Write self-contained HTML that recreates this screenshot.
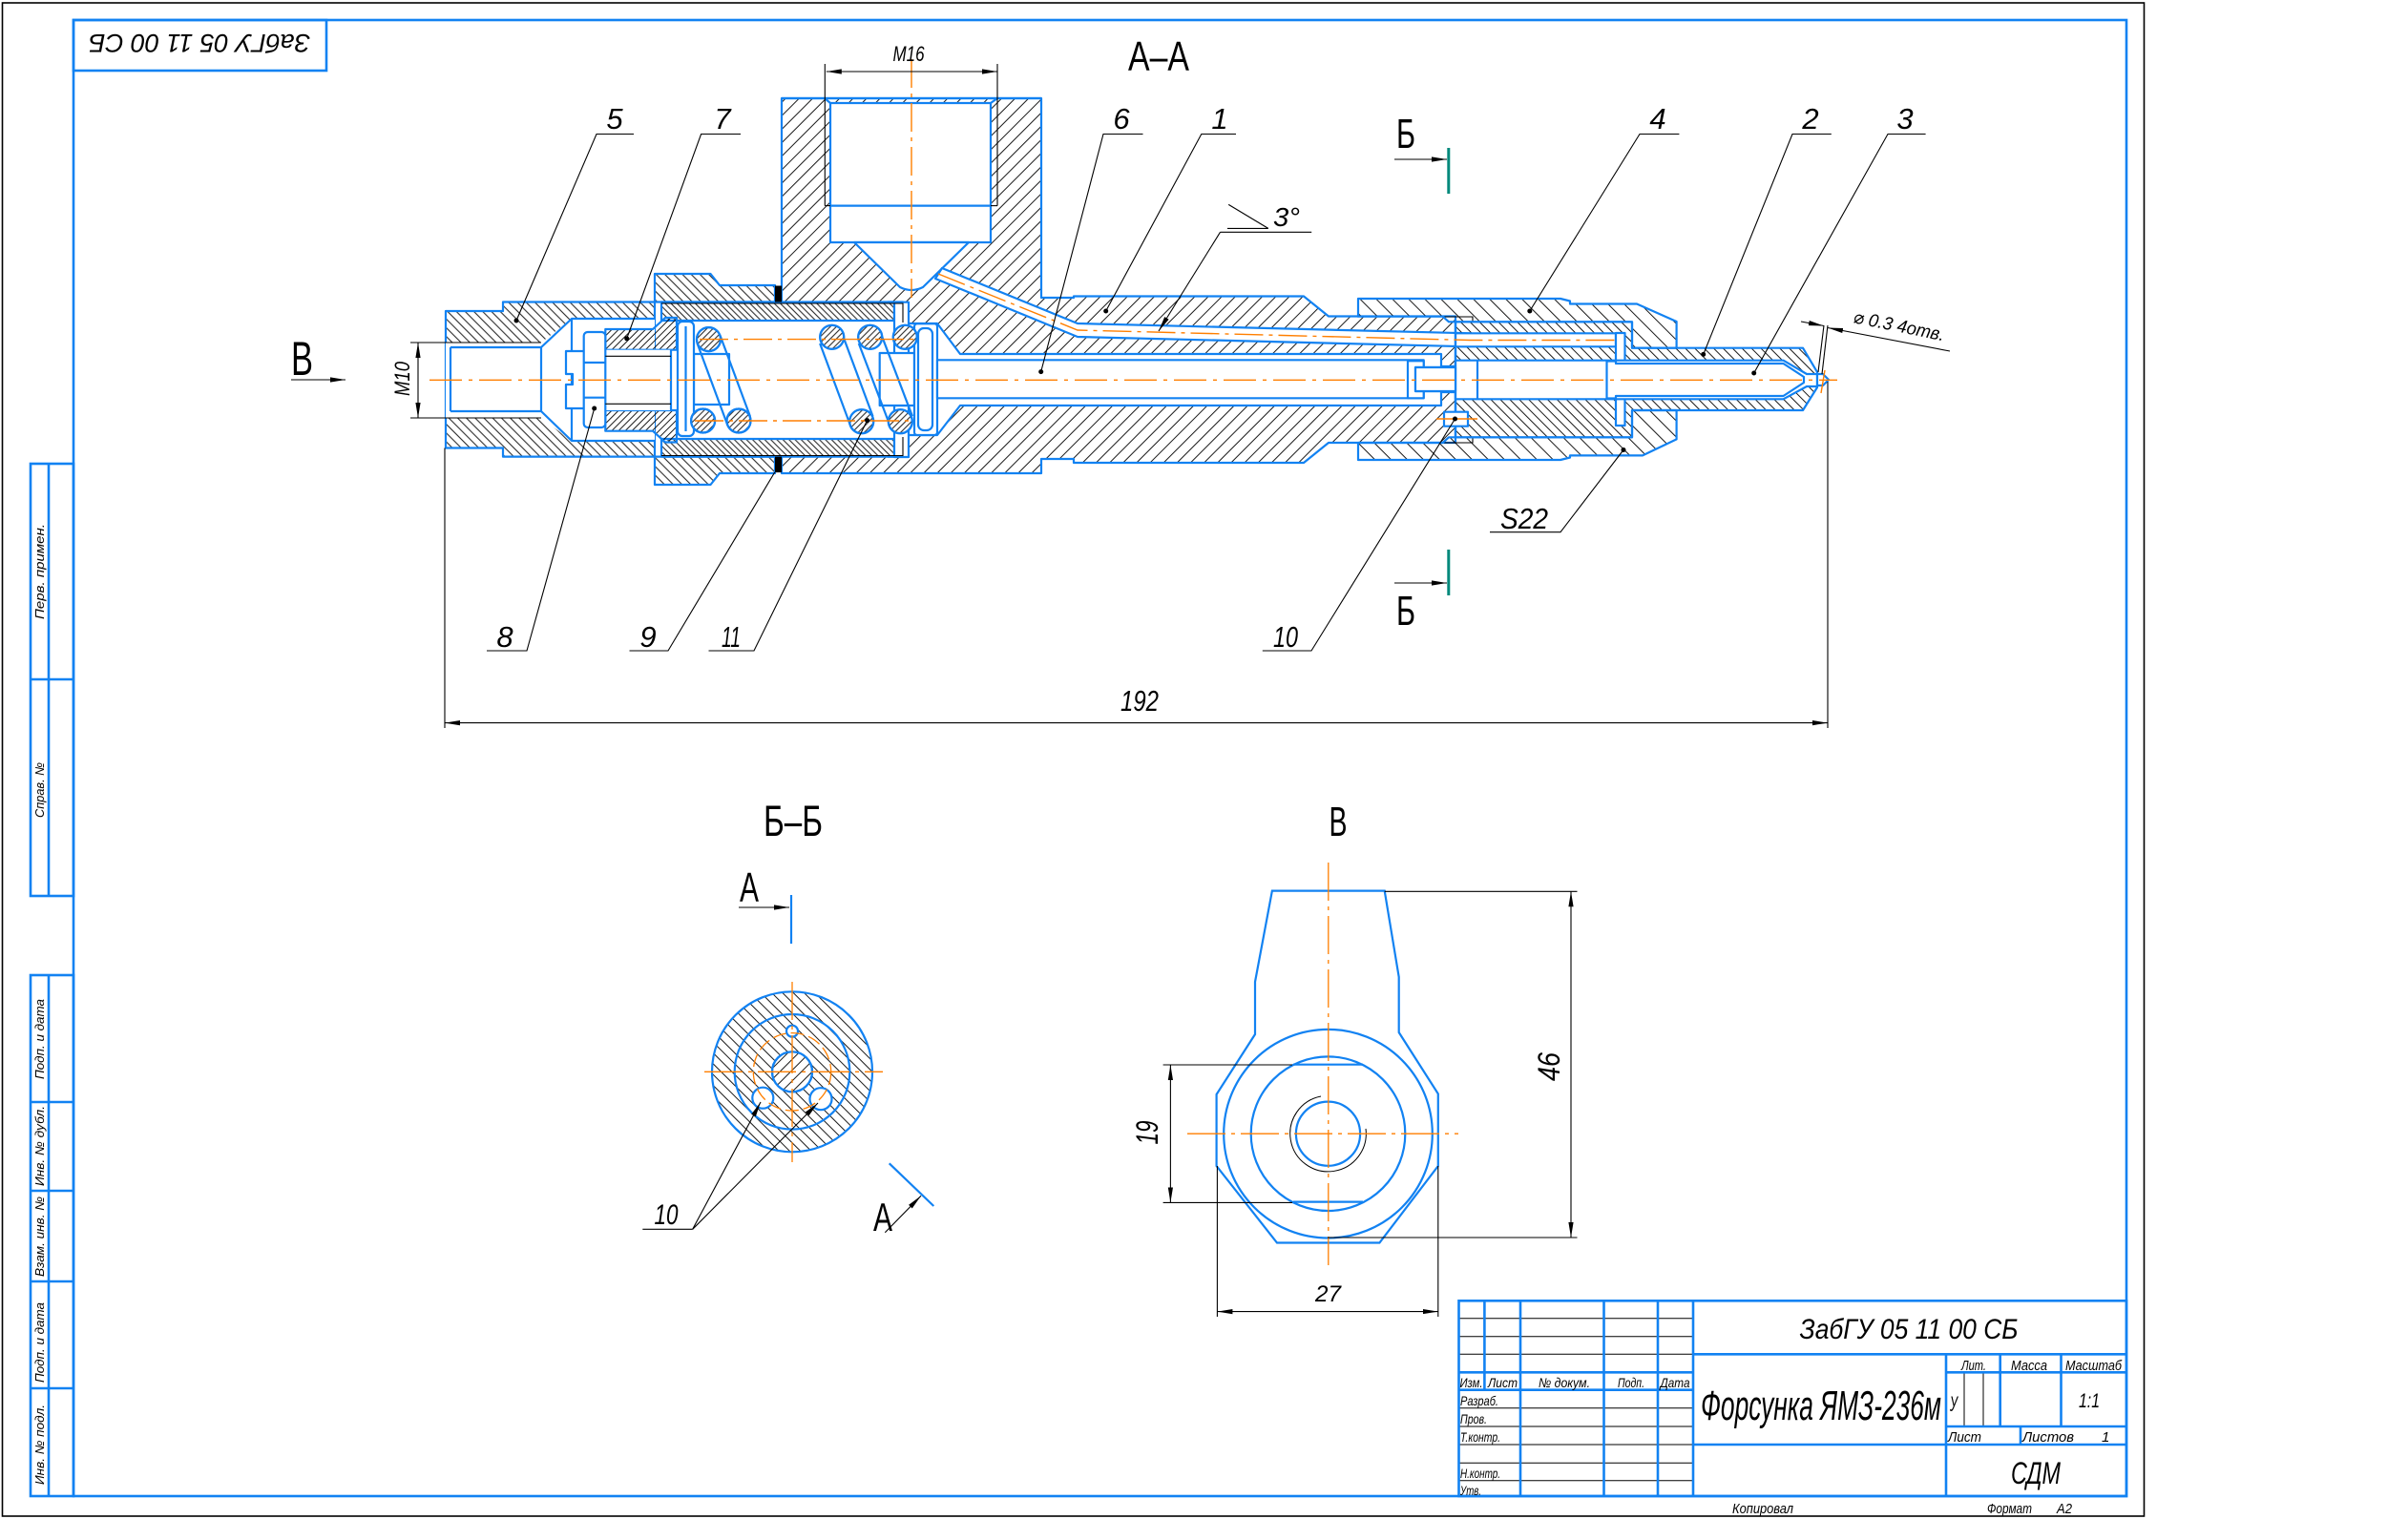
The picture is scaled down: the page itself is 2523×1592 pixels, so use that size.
<!DOCTYPE html>
<html><head><meta charset="utf-8">
<style>
html,body{margin:0;padding:0;background:#fff;}
svg{display:block;}
text{font-family:"Liberation Sans","DejaVu Sans",sans-serif;fill:#000;}
.it{font-style:italic;}
</style></head><body>
<svg xmlns="http://www.w3.org/2000/svg" width="2523" height="1592" viewBox="0 0 2523 1592">
<defs>
<pattern id="pA" width="6.5" height="10" patternUnits="userSpaceOnUse" patternTransform="rotate(-45)"><line x1="3.25" y1="-1" x2="3.25" y2="11" stroke="#000" stroke-width="0.9"/></pattern>
<pattern id="pB" width="4.5" height="10" patternUnits="userSpaceOnUse" patternTransform="rotate(-45)"><line x1="2.25" y1="-1" x2="2.25" y2="11" stroke="#000" stroke-width="0.9"/></pattern>
<pattern id="pC" width="5" height="10" patternUnits="userSpaceOnUse" patternTransform="rotate(45)"><line x1="2.5" y1="-1" x2="2.5" y2="11" stroke="#000" stroke-width="0.9"/></pattern>
<pattern id="pD" width="10" height="10" patternUnits="userSpaceOnUse" patternTransform="rotate(45)"><line x1="5" y1="-1" x2="5" y2="11" stroke="#000" stroke-width="0.9"/></pattern>
<pattern id="pE" width="12" height="10" patternUnits="userSpaceOnUse" patternTransform="rotate(-45)"><line x1="6" y1="-1" x2="6" y2="11" stroke="#000" stroke-width="0.9"/></pattern>
<pattern id="pF" width="7" height="10" patternUnits="userSpaceOnUse" patternTransform="rotate(-45)"><line x1="3.5" y1="-1" x2="3.5" y2="11" stroke="#000" stroke-width="0.9"/></pattern>
<pattern id="pG" width="4.5" height="10" patternUnits="userSpaceOnUse" patternTransform="rotate(45)"><line x1="2.25" y1="-1" x2="2.25" y2="11" stroke="#000" stroke-width="0.9"/></pattern>
<pattern id="pH" width="8" height="10" patternUnits="userSpaceOnUse" patternTransform="rotate(-45)"><line x1="4" y1="-1" x2="4" y2="11" stroke="#000" stroke-width="0.9"/></pattern>
<pattern id="pI" width="8" height="10" patternUnits="userSpaceOnUse" patternTransform="rotate(45)"><line x1="4" y1="-1" x2="4" y2="11" stroke="#000" stroke-width="0.9"/></pattern>
<marker id="ar" viewBox="0 0 16 6" refX="16" refY="3" markerWidth="16" markerHeight="6" markerUnits="userSpaceOnUse" orient="auto-start-reverse"><path d="M0,0.4 L16,3 L0,5.6 Z" fill="#000"/></marker>
</defs>

<rect x="0" y="0" width="2523" height="1592" fill="#fff"/>

<!-- frames -->
<rect x="2.5" y="3" width="2244" height="1586" fill="none" stroke="#000" stroke-width="1.6"/>
<rect x="77" y="21" width="2151" height="1547" fill="none" stroke="#1282f2" stroke-width="2.6"/>
<rect x="77" y="21" width="265" height="53" fill="none" stroke="#1282f2" stroke-width="2.6"/>
<text class="it" x="209" y="56" font-size="27" text-anchor="middle" textLength="232" lengthAdjust="spacingAndGlyphs" transform="rotate(180 209 46)">ЗабГУ 05 11 00 СБ</text>

<!-- left strip -->
<g fill="none" stroke="#1282f2" stroke-width="2.6">
<rect x="32" y="486" width="45" height="453"/>
<line x1="51" y1="486" x2="51" y2="939"/>
<line x1="32" y1="712" x2="77" y2="712"/>
<rect x="32" y="1022" width="45" height="546"/>
<line x1="51" y1="1022" x2="51" y2="1568"/>
<line x1="32" y1="1155" x2="77" y2="1155"/>
<line x1="32" y1="1248" x2="77" y2="1248"/>
<line x1="32" y1="1343" x2="77" y2="1343"/>
<line x1="32" y1="1455" x2="77" y2="1455"/>
</g>
<g font-size="13" class="it">
<text class="it" transform="translate(46 599) rotate(-90)" text-anchor="middle" textLength="100" lengthAdjust="spacingAndGlyphs">Перв. примен.</text>
<text class="it" transform="translate(46 828) rotate(-90)" text-anchor="middle" textLength="58" lengthAdjust="spacingAndGlyphs">Справ. №</text>
<text class="it" transform="translate(46 1089) rotate(-90)" text-anchor="middle" textLength="84" lengthAdjust="spacingAndGlyphs">Подп. и дата</text>
<text class="it" transform="translate(46 1201) rotate(-90)" text-anchor="middle" textLength="84" lengthAdjust="spacingAndGlyphs">Инв. № дубл.</text>
<text class="it" transform="translate(46 1296) rotate(-90)" text-anchor="middle" textLength="84" lengthAdjust="spacingAndGlyphs">Взам. инв. №</text>
<text class="it" transform="translate(46 1407) rotate(-90)" text-anchor="middle" textLength="84" lengthAdjust="spacingAndGlyphs">Подп. и дата</text>
<text class="it" transform="translate(46 1514) rotate(-90)" text-anchor="middle" textLength="84" lengthAdjust="spacingAndGlyphs">Инв. № подл.</text>
</g>

<!-- ================= MAIN SECTION A-A ================= -->
<g stroke="#1282f2" stroke-width="2.2" stroke-linejoin="round">
<!-- body 1 (open path so the cavity side isn't stroked) -->
<path d="M819,316.5 V103 H1091 V312 H1125 V310.5 H1366 L1392,331.5 H1525 V464 H1392 L1366,485 H1125 V481 H1091 V496 H819 V478.6" fill="url(#pD)"/>
<!-- body cavity -->
<path d="M819,316.5 H946 V339 H982 L1006,371 H1510 V384 H1525 V411 H1510 V425 H1006 L982,456 H946 V478.6 H819 Z" fill="#fff" stroke="none"/>
<path d="M930,316.5 H946 V339 H982 L1006,371 H1510 V384 H1525 M1525,411 H1510 V425 H1006 L982,456 H946 V478.6 H930" fill="none"/>
<!-- M16 port -->
<path d="M870,254 V108 H1038 V254 Z" fill="#fff"/>
<path d="M895,254 L943,301 Q955,307 967,301 L1015,254 Z" fill="#fff"/>
<line x1="864" y1="103" x2="870" y2="108"/>
<line x1="1045" y1="103" x2="1038" y2="108"/>
<line x1="870" y1="215.6" x2="1038" y2="215.6"/>
<line x1="819" y1="103" x2="1091" y2="103"/>
<!-- inclined channel -->
<path d="M987,281 L1129,339 L1540,349.3 V363.3 L1129,353 L980,292 Z" fill="#fff"/>
<!-- left union nut -->
<path d="M686,287 H744.5 L754,299 H812 V316.5 H686 Z" fill="url(#pA)"/>
<path d="M686,508 H744.5 L754,496 H812 V478.6 H686 Z" fill="url(#pA)"/>
<!-- fitting 5 -->
<path d="M467,326 H527 V316.5 H686 V478.6 H527 V469.5 H467 Z" fill="url(#pA)"/>
<path d="M467,359 H567 L599,334 H686 V462 H599 L567,438 H467 Z" fill="#fff" stroke="none"/>
<path d="M472,364 V431 M472,364 H567 L599,334 H686 M472,431 H567 L599,462 H686 M567,364 V431 M599,334 V462" fill="none"/>
<!-- sleeve tube -->
<rect x="693" y="316.5" width="244" height="19.5" fill="url(#pB)"/>
<rect x="693" y="460" width="244" height="18.6" fill="url(#pB)"/>
<rect x="937" y="316.7" width="15" height="54" fill="#fff"/>
<rect x="937" y="425" width="15" height="54" fill="#fff"/>
<!-- part 7 -->
<path d="M634.3,345 H684 L697,333 H709 V366.7 H634.3 Z" fill="url(#pC)"/>
<path d="M634.3,451.7 H684 L697,463.5 H709 V430 H634.3 Z" fill="url(#pC)"/>
<rect x="634.3" y="366.7" width="69" height="63.3" fill="#fff" stroke="none"/>
<line x1="703" y1="366.7" x2="703" y2="430"/>
<!-- screw 8 -->
<path d="M612,368 H593 V392 H600 V403 H593 V428 H612" fill="#fff"/>
<rect x="611.7" y="348" width="22.6" height="100" rx="4" fill="#fff"/>
<line x1="611.7" y1="380" x2="634.3" y2="380"/>
<line x1="611.7" y1="416.7" x2="634.3" y2="416.7"/>
<!-- left seat -->
<rect x="727" y="371" width="37" height="53" fill="#fff"/>
<rect x="710" y="337" width="17" height="120" rx="5" fill="#fff"/>
<line x1="718.5" y1="342" x2="718.5" y2="452"/>
<!-- right seat -->
<rect x="921.7" y="370" width="36.3" height="55" fill="#fff"/>
<rect x="958" y="339.3" width="24" height="116.7" rx="3" fill="#fff"/>
<rect x="962" y="344" width="15" height="107" rx="6" fill="none"/>
<!-- rod 6 -->
<rect x="982" y="377.3" width="509.7" height="40" fill="#fff"/>
<rect x="1475" y="378.3" width="16.7" height="39" fill="#fff"/>
<rect x="1483" y="385" width="42" height="25" fill="#fff"/>
</g>

<!-- thread & misc thin black lines -->
<g stroke="#000" stroke-width="1.1" fill="none">
<line x1="864.3" y1="67" x2="864.3" y2="215.6"/>
<line x1="1045" y1="67" x2="1045" y2="215.6"/>
<line x1="864.3" y1="215.6" x2="870" y2="215.6"/>
<line x1="1038" y1="215.6" x2="1045" y2="215.6"/>
<line x1="430" y1="359" x2="567" y2="359"/>
<line x1="430" y1="438" x2="567" y2="438"/>
<polyline points="693,318 946,318 946,338"/>
<polyline points="693,477.5 946,477.5 946,458"/>
<line x1="634.3" y1="373.3" x2="703" y2="373.3"/>
<line x1="634.3" y1="423.3" x2="703" y2="423.3"/>
<polyline points="1433.6,332 1543,332 1543,337"/>
<polyline points="1433.6,464 1543,464 1543,459"/>
</g>

<!-- gaskets 9 -->
<rect x="812" y="299.5" width="7" height="17" fill="#000"/>
<rect x="812" y="478.6" width="7" height="16.5" fill="#000"/>

<!-- spring 11 -->
<g stroke="#1282f2" stroke-width="2.2" fill="none">
<line x1="754.4" y1="351.2" x2="785.9" y2="436.2"/>
<line x1="730.6" y1="360" x2="762.1" y2="445"/>
<line x1="882.9" y1="351.2" x2="914.5" y2="436.2"/>
<line x1="859.1" y1="360" x2="890.7" y2="445"/>
<line x1="923.6" y1="351.2" x2="955.9" y2="436.2"/>
<line x1="899.8" y1="360" x2="932.1" y2="445"/>
</g>
<g stroke="#1282f2" stroke-width="2.2">
<circle cx="742.5" cy="355.6" r="12.5" fill="#fff"/><circle cx="742.5" cy="355.6" r="12.5" fill="url(#pG)"/>
<circle cx="871.7" cy="353.3" r="12.5" fill="#fff"/><circle cx="871.7" cy="353.3" r="12.5" fill="url(#pG)"/>
<circle cx="911.7" cy="353.3" r="12.5" fill="#fff"/><circle cx="911.7" cy="353.3" r="12.5" fill="url(#pG)"/>
<circle cx="948.3" cy="353.3" r="12.5" fill="#fff"/><circle cx="948.3" cy="353.3" r="12.5" fill="url(#pG)"/>
<circle cx="736.6" cy="441" r="12.5" fill="#fff"/><circle cx="736.6" cy="441" r="12.5" fill="url(#pG)"/>
<circle cx="774" cy="441" r="12.5" fill="#fff"/><circle cx="774" cy="441" r="12.5" fill="url(#pG)"/>
<circle cx="902.7" cy="441.7" r="12.5" fill="#fff"/><circle cx="902.7" cy="441.7" r="12.5" fill="url(#pG)"/>
<circle cx="943.3" cy="441.7" r="12.5" fill="#fff"/><circle cx="943.3" cy="441.7" r="12.5" fill="url(#pG)"/>
</g>

<!-- right side: nut 4, nozzle 2 -->
<g stroke="#1282f2" stroke-width="2.2" stroke-linejoin="round">
<path d="M1423,313 H1635 L1645,315.5 V318.5 H1715 L1756.6,337 V364.7 H1710 V337.3 H1518 L1511.7,331.7 H1423 Z" fill="url(#pE)"/>
<path d="M1423,482 H1635 L1645,479.5 V477.4 H1721 L1756.6,460.4 V430 H1710 V458.3 H1518 L1511.7,464 H1423 Z" fill="url(#pE)"/>
<path d="M1525,337.3 H1710 V364.7 H1889 L1904,390 V406 L1889,430 H1710 V458.3 H1525 Z" fill="url(#pF)"/>
<rect x="1525" y="349.3" width="168" height="14" fill="#fff"/>
<rect x="1693" y="349" width="9.5" height="97" fill="#fff"/>
<path d="M1525,377.7 H1868.5 L1893,392 H1904 V405 H1893 L1868.5,418.3 H1525 Z" fill="#fff"/>
<path d="M1683.5,378.5 H1693 V381 H1868.5 L1890,395 V401 L1868.5,415 H1693 V417.5 H1683.5 Z" fill="#fff"/>
<line x1="1548" y1="377.7" x2="1548" y2="418.3"/>
<path d="M1904,392 H1910 L1916,398 L1910,404 H1904 Z" fill="#fff"/>
<line x1="1525" y1="337" x2="1525" y2="458.3"/>
<rect x="1513" y="431.7" width="25" height="15" fill="#fff"/>
<rect x="1483" y="385" width="42" height="25" fill="#fff"/>
</g>

<!-- orange axes -->
<g stroke="#ff7f00" stroke-width="1.4" fill="none">
<line x1="450" y1="398.3" x2="1925" y2="398.3" stroke-dasharray="34 7 4 7"/>
<line x1="955" y1="62" x2="955" y2="312" stroke-dasharray="30 6 4 6"/>
<polyline points="983,287 1129,346 1540,356.5 1693,356.5" stroke-dasharray="30 6 4 6"/>
<line x1="733" y1="355.6" x2="960" y2="355.6" stroke-dasharray="30 6 4 6"/>
<line x1="728" y1="441" x2="958" y2="441" stroke-dasharray="30 6 4 6"/>
<line x1="1505" y1="439" x2="1548" y2="439"/>
<line x1="1912" y1="388" x2="1908" y2="412"/>
</g>

<!-- dimensions main -->
<g stroke="#000" stroke-width="1.1" fill="none">
<line x1="865.8" y1="75" x2="1045" y2="75" marker-start="url(#ar)" marker-end="url(#ar)"/>
<line x1="438" y1="359" x2="438" y2="438" marker-start="url(#ar)" marker-end="url(#ar)"/>
<line x1="466" y1="469.5" x2="466" y2="763"/>
<line x1="1915" y1="400" x2="1915" y2="763"/>
<line x1="466" y1="757.6" x2="1915" y2="757.6" marker-start="url(#ar)" marker-end="url(#ar)"/>
<line x1="1887" y1="337" x2="1911" y2="341.5" marker-end="url(#ar)"/>
<line x1="2043" y1="368" x2="1915" y2="343.5" marker-end="url(#ar)"/>
<line x1="1911" y1="341" x2="1905" y2="390"/>
<line x1="1915" y1="341" x2="1909" y2="392"/>
<!-- leaders -->
<polyline points="664,140.5 625,140.5 541,336"/>
<polyline points="776,140.5 734.6,140.5 656.7,354.8"/>
<polyline points="1197.5,140.5 1156,140.5 1090.7,389.6"/>
<polyline points="1295,140.5 1258.8,140.5 1158.7,326"/>
<polyline points="1759.4,140.5 1718,140.5 1602.8,326"/>
<polyline points="1918.8,140.5 1878,140.5 1784.7,371.4"/>
<polyline points="2017.6,140.5 1978,140.5 1837.7,391"/>
<polyline points="510,682 552,682 622.7,428"/>
<polyline points="659.5,682 700,682 811.7,495"/>
<polyline points="742.5,682 790,682 908.6,440.6"/>
<polyline points="1322.8,682 1374,682 1524.5,439"/>
<polyline points="1561,557.7 1635,557.7 1701,471.5"/>
<line x1="1287.2" y1="214.4" x2="1328.8" y2="239.4"/>
<line x1="1286" y1="239.4" x2="1328.8" y2="239.4"/>
<line x1="1374.2" y1="243.3" x2="1278.5" y2="243.3"/>
<line x1="1278.5" y1="243.3" x2="1214" y2="347" marker-end="url(#ar)"/>
<!-- section marks -->
<line x1="1461" y1="167" x2="1516" y2="167" marker-end="url(#ar)"/>
<line x1="1461" y1="611" x2="1516" y2="611" marker-end="url(#ar)"/>
<line x1="305" y1="398" x2="362" y2="398" marker-end="url(#ar)"/>
</g>
<g fill="#000">
<circle cx="541" cy="336" r="2.5"/><circle cx="656.7" cy="354.8" r="2.5"/>
<circle cx="1090.7" cy="389.6" r="2.5"/><circle cx="1158.7" cy="326" r="2.5"/>
<circle cx="1602.8" cy="326" r="2.5"/><circle cx="1784.7" cy="371.4" r="2.5"/>
<circle cx="1837.7" cy="391" r="2.5"/><circle cx="622.7" cy="428" r="2.5"/>
<circle cx="908.6" cy="440.6" r="2.5"/><circle cx="1524.5" cy="439" r="2.5"/>
<circle cx="1701" cy="471.5" r="2.5"/>
</g>
<g stroke="#00897b" stroke-width="3">
<line x1="1517.8" y1="155" x2="1517.8" y2="203"/>
<line x1="1517.8" y1="576" x2="1517.8" y2="624"/>
</g>

<!-- labels main -->
<g class="it" font-size="31" text-anchor="middle">
<text class="it" x="644" y="135">5</text>
<text class="it" x="757" y="135">7</text>
<text class="it" x="1175" y="135">6</text>
<text class="it" x="1278" y="135">1</text>
<text class="it" x="1737" y="135">4</text>
<text class="it" x="1897" y="135">2</text>
<text class="it" x="1996" y="135">3</text>
<text class="it" x="529" y="678">8</text>
<text class="it" x="679" y="678">9</text>
<text class="it" x="766" y="678" textLength="20" lengthAdjust="spacingAndGlyphs">11</text>
<text class="it" x="1347" y="678" textLength="26" lengthAdjust="spacingAndGlyphs">10</text>
<text class="it" x="1597" y="554" textLength="50" lengthAdjust="spacingAndGlyphs">S22</text>
<text class="it" x="1348" y="237" font-size="28" textLength="28" lengthAdjust="spacingAndGlyphs">3°</text>
<text class="it" x="1194" y="745" font-size="31" textLength="40" lengthAdjust="spacingAndGlyphs">192</text>
<text class="it" x="952" y="64" font-size="22" textLength="33" lengthAdjust="spacingAndGlyphs">M16</text>
<text class="it" transform="translate(429 397) rotate(-90)" font-size="22" textLength="36" lengthAdjust="spacingAndGlyphs">M10</text>
</g>
<text class="it" transform="translate(1941 338) rotate(11.5)" font-size="19" textLength="97" lengthAdjust="spacingAndGlyphs">⌀ 0.3 4отв.</text>
<g font-size="44" text-anchor="middle">
<text x="1214" y="74" textLength="64" lengthAdjust="spacingAndGlyphs">А–А</text>
<text x="1473" y="155" textLength="20" lengthAdjust="spacingAndGlyphs">Б</text>
<text x="1473" y="655" textLength="20" lengthAdjust="spacingAndGlyphs">Б</text>
<text x="316.5" y="393" font-size="50" textLength="23" lengthAdjust="spacingAndGlyphs">В</text>
<text x="831" y="876" font-size="45" textLength="62" lengthAdjust="spacingAndGlyphs">Б–Б</text>
<text x="1402" y="876" textLength="19" lengthAdjust="spacingAndGlyphs">В</text>
<text x="785" y="945" textLength="20" lengthAdjust="spacingAndGlyphs">А</text>
<text x="925" y="1290" font-size="42" textLength="20" lengthAdjust="spacingAndGlyphs">А</text>
</g>

<!-- ================= SECTION Б-Б ================= -->
<g stroke="#1282f2" stroke-width="2.2">
<circle cx="830" cy="1123.3" r="84" fill="url(#pH)"/>
<circle cx="830" cy="1123.3" r="60.3" fill="none"/>
<circle cx="830" cy="1123.3" r="21" fill="#fff"/>
<circle cx="830" cy="1123.3" r="21" fill="url(#pI)"/>
<circle cx="799.3" cy="1150.7" r="11" fill="#fff"/>
<circle cx="860" cy="1151.7" r="11.5" fill="#fff"/>
<circle cx="830" cy="1080.7" r="6" fill="#fff"/>
<line x1="829" y1="938" x2="829" y2="989"/>
<line x1="931.7" y1="1219.3" x2="978.3" y2="1264"/>
</g>
<g stroke="#ff7f00" stroke-width="1.3" fill="none">
<circle cx="830" cy="1123.3" r="40.7" stroke-dasharray="14 5"/>
<line x1="738" y1="1123.3" x2="925" y2="1123.3" stroke-dasharray="40 6 4 6"/>
<line x1="830" y1="1029" x2="830" y2="1218" stroke-dasharray="40 6 4 6"/>
</g>
<g stroke="#000" stroke-width="1.1" fill="none">
<line x1="774" y1="951" x2="827" y2="951" marker-end="url(#ar)"/>
<line x1="927.3" y1="1291.7" x2="965" y2="1253.3" marker-end="url(#ar)"/>
<polyline points="673.3,1288.3 725.7,1288.3"/>
<line x1="725.7" y1="1288.3" x2="797" y2="1155" marker-end="url(#ar)"/>
<line x1="725.7" y1="1288.3" x2="857" y2="1156" marker-end="url(#ar)"/>
</g>
<text class="it" x="698" y="1283" font-size="30" text-anchor="middle" textLength="25" lengthAdjust="spacingAndGlyphs">10</text>

<!-- ================= VIEW В ================= -->
<g stroke="#1282f2" stroke-width="2.2" fill="none">
<path d="M1332.9,933.6 H1450.7 L1465.7,1024 V1082 L1506.8,1146.4 V1222 L1445.4,1302.5 H1338 L1274.6,1222 V1147 L1315,1084 V1029 Z"/>
<circle cx="1391.5" cy="1188.2" r="109.3"/>
<circle cx="1391.5" cy="1188.2" r="80.8"/>
<line x1="1355" y1="1115.7" x2="1428" y2="1115.7"/>
<line x1="1355" y1="1259.6" x2="1428" y2="1259.6"/>
<circle cx="1391.5" cy="1188.2" r="33.6"/>
</g>
<path d="M1384,1149 A39.8,39.8 0 1 0 1431,1183" fill="none" stroke="#000" stroke-width="1"/>
<g stroke="#ff7f00" stroke-width="1.3" fill="none">
<line x1="1391.8" y1="904" x2="1391.8" y2="1326" stroke-dasharray="40 6 4 6"/>
<line x1="1244" y1="1188.2" x2="1528" y2="1188.2" stroke-dasharray="40 6 4 6"/>
</g>
<g stroke="#000" stroke-width="1.1" fill="none">
<line x1="1218.6" y1="1116" x2="1354" y2="1116"/>
<line x1="1218.6" y1="1260.4" x2="1354" y2="1260.4"/>
<line x1="1226.4" y1="1116" x2="1226.4" y2="1260.4" marker-start="url(#ar)" marker-end="url(#ar)"/>
<line x1="1450.7" y1="934.3" x2="1652.5" y2="934.3"/>
<line x1="1391" y1="1297" x2="1652.5" y2="1297"/>
<line x1="1646" y1="934.3" x2="1646" y2="1297" marker-start="url(#ar)" marker-end="url(#ar)"/>
<line x1="1275.4" y1="1222" x2="1275.4" y2="1380"/>
<line x1="1506.8" y1="1222" x2="1506.8" y2="1380"/>
<line x1="1275.4" y1="1374.6" x2="1506.8" y2="1374.6" marker-start="url(#ar)" marker-end="url(#ar)"/>
</g>
<text class="it" transform="translate(1213 1187) rotate(-90)" font-size="32" text-anchor="middle" textLength="25" lengthAdjust="spacingAndGlyphs">19</text>
<text class="it" transform="translate(1634 1118) rotate(-90)" font-size="32" text-anchor="middle" textLength="30" lengthAdjust="spacingAndGlyphs">46</text>
<text class="it" x="1391.5" y="1364" font-size="24" text-anchor="middle" textLength="27" lengthAdjust="spacingAndGlyphs">27</text>

<!-- ================= TITLE BLOCK ================= -->
<g stroke="#000" stroke-width="1" fill="none">
<line x1="1528.5" y1="1381.7" x2="1774" y2="1381.7"/>
<line x1="1528.5" y1="1400.7" x2="1774" y2="1400.7"/>
<line x1="1528.5" y1="1419.3" x2="1774" y2="1419.3"/>
<line x1="1528.5" y1="1475.7" x2="1774" y2="1475.7"/>
<line x1="1528.5" y1="1495" x2="1774" y2="1495"/>
<line x1="1528.5" y1="1514" x2="1774" y2="1514"/>
<line x1="1528.5" y1="1533.3" x2="1774" y2="1533.3"/>
<line x1="1528.5" y1="1551.7" x2="1774" y2="1551.7"/>
<line x1="2058" y1="1438.3" x2="2058" y2="1495"/>
<line x1="2078" y1="1438.3" x2="2078" y2="1495"/>
</g>
<g stroke="#1282f2" stroke-width="2.6" fill="none">
<rect x="1528.5" y="1363.3" width="699.5" height="204.7"/>
<line x1="1528.5" y1="1438.3" x2="1774" y2="1438.3"/>
<line x1="1528.5" y1="1456.7" x2="1774" y2="1456.7"/>
<line x1="1555.4" y1="1363.3" x2="1555.4" y2="1456.7"/>
<line x1="1593" y1="1363.3" x2="1593" y2="1568"/>
<line x1="1680.5" y1="1363.3" x2="1680.5" y2="1568"/>
<line x1="1737" y1="1363.3" x2="1737" y2="1568"/>
<line x1="1774" y1="1363.3" x2="1774" y2="1568"/>
<line x1="1774" y1="1419.3" x2="2228" y2="1419.3"/>
<line x1="1774" y1="1514" x2="2228" y2="1514"/>
<line x1="2039" y1="1419.3" x2="2039" y2="1568"/>
<line x1="2039" y1="1438.3" x2="2228" y2="1438.3"/>
<line x1="2039" y1="1495" x2="2228" y2="1495"/>
<line x1="2095.7" y1="1419.3" x2="2095.7" y2="1495"/>
<line x1="2159.5" y1="1419.3" x2="2159.5" y2="1495"/>
<line x1="2117" y1="1495" x2="2117" y2="1514"/>
</g>
<g class="it">
<text class="it" x="2000" y="1403" font-size="30" text-anchor="middle" textLength="229" lengthAdjust="spacingAndGlyphs">ЗабГУ 05 11 00 СБ</text>
<text class="it" x="1782" y="1488" font-size="44" textLength="252" lengthAdjust="spacingAndGlyphs">Форсунка ЯМЗ-236м</text>
<text class="it" x="2055" y="1436" font-size="15" textLength="26" lengthAdjust="spacingAndGlyphs">Лит.</text>
<text class="it" x="2107" y="1436" font-size="15" textLength="38" lengthAdjust="spacingAndGlyphs">Масса</text>
<text class="it" x="2164" y="1436" font-size="15" textLength="59" lengthAdjust="spacingAndGlyphs">Масштаб</text>
<text class="it" x="2043" y="1479" font-size="22" textLength="8" lengthAdjust="spacingAndGlyphs">У</text>
<text class="it" x="2178" y="1475" font-size="21" textLength="22" lengthAdjust="spacingAndGlyphs">1:1</text>
<text class="it" x="2041" y="1511" font-size="15" textLength="35" lengthAdjust="spacingAndGlyphs">Лист</text>
<text class="it" x="2119" y="1511" font-size="15" textLength="54" lengthAdjust="spacingAndGlyphs">Листов</text>
<text class="it" x="2202" y="1511" font-size="15">1</text>
<text class="it" x="2107" y="1555" font-size="32" textLength="52" lengthAdjust="spacingAndGlyphs">СДМ</text>
<text class="it" x="1815" y="1586" font-size="15" textLength="64" lengthAdjust="spacingAndGlyphs">Копировал</text>
<text class="it" x="2082" y="1586" font-size="15" textLength="47" lengthAdjust="spacingAndGlyphs">Формат</text>
<text class="it" x="2155" y="1586" font-size="15" textLength="16" lengthAdjust="spacingAndGlyphs">А2</text>
<text class="it" x="1529.5" y="1454" font-size="14" textLength="24" lengthAdjust="spacingAndGlyphs">Изм.</text>
<text class="it" x="1559" y="1454" font-size="14" textLength="31" lengthAdjust="spacingAndGlyphs">Лист</text>
<text class="it" x="1612" y="1454" font-size="14" textLength="54" lengthAdjust="spacingAndGlyphs">№ докум.</text>
<text class="it" x="1695" y="1454" font-size="14" textLength="28" lengthAdjust="spacingAndGlyphs">Подп.</text>
<text class="it" x="1739.5" y="1454" font-size="14" textLength="31" lengthAdjust="spacingAndGlyphs">Дата</text>
<text class="it" x="1530" y="1473" font-size="14" textLength="40" lengthAdjust="spacingAndGlyphs">Разраб.</text>
<text class="it" x="1530" y="1492" font-size="14" textLength="28" lengthAdjust="spacingAndGlyphs">Пров.</text>
<text class="it" x="1530" y="1511" font-size="14" textLength="42" lengthAdjust="spacingAndGlyphs">Т.контр.</text>
<text class="it" x="1530" y="1549" font-size="14" textLength="42" lengthAdjust="spacingAndGlyphs">Н.контр.</text>
<text class="it" x="1530" y="1567" font-size="14" textLength="22" lengthAdjust="spacingAndGlyphs">Утв.</text>
</g>
</svg>
</body></html>
